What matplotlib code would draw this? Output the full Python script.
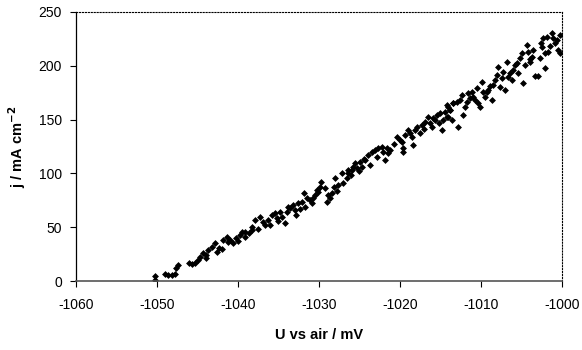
import numpy as np
import matplotlib.pyplot as plt

plt.rcParams['font.family'] = ['Liberation Sans', 'DejaVu Sans']
plt.rcParams['axes.unicode_minus'] = False

# potential U vs air (mV) and current density j (mA cm^-2)
u_mv = [
    -1050.2, -1050.2, -1049.0, -1048.6, -1048.2, -1047.8, -1047.6, -1047.4,
    -1046.1, -1045.7, -1045.3, -1044.9, -1044.7, -1044.3, -1043.9, -1043.7,
    -1043.2, -1042.8, -1042.6, -1042.4, -1041.8, -1041.4, -1041.2, -1041.0,
    -1040.6, -1040.2, -1039.8, -1039.5, -1039.1, -1039.1, -1038.7, -1038.3,
    -1038.3, -1037.9, -1037.3, -1036.9, -1036.7, -1036.3, -1036.05, -1035.8,
    -1035.4, -1035.2, -1034.8, -1034.6, -1034.2, -1034.0, -1033.8, -1033.6,
    -1033.2, -1033.0, -1032.8, -1032.55, -1032.1, -1031.9, -1031.7, -1031.5,
    -1031.1, -1030.9, -1030.5, -1030.3, -1030.1, -1029.9, -1029.7, -1029.3,
    -1029.06, -1028.85, -1028.6, -1028.4, -1028.2, -1028.0, -1027.6, -1027.2,
    -1027.0, -1026.6, -1026.4, -1026.0, -1025.8,
    -1026.38, -1025.97, -1025.56, -1025.35, -1024.94, -1024.73, -1024.32,
    -1023.91, -1023.7, -1023.5, -1023.09, -1022.88, -1022.67, -1022.26,
    -1022.06, -1021.85, -1021.65, -1021.44, -1021.23, -1020.41, -1019.79,
    -1019.59, -1019.59, -1019.38, -1018.97, -1018.77, -1018.56, -1018.35,
    -1018.15, -1017.94, -1017.53, -1017.32, -1016.91, -1016.5, -1016.3,
    -1016.09, -1015.88, -1015.68, -1015.47, -1015.06, -1014.86, -1014.65,
    -1014.44, -1014.24, -1014.03, -1013.83, -1013.42,
    -1014.23, -1014.03, -1013.82, -1013.62, -1013.41, -1013.0, -1012.8,
    -1012.59, -1012.38, -1012.18, -1011.97, -1011.77, -1011.56, -1011.15,
    -1010.94, -1010.74, -1010.53, -1010.32, -1010.12, -1009.91, -1009.71,
    -1009.5, -1009.3, -1009.09, -1008.68, -1008.47, -1008.27, -1008.06,
    -1007.86, -1007.65, -1007.44, -1007.24, -1007.03, -1006.83, -1006.62,
    -1006.21, -1006.0, -1005.8, -1005.59, -1005.39, -1005.18, -1004.97,
    -1004.77, -1004.56, -1004.36, -1004.15, -1003.95, -1003.74, -1003.53,
    -1003.33, -1002.92, -1002.71, -1002.51, -1002.3, -1002.09, -1002.09,
    -1001.89, -1001.68, -1001.27, -1001.07, -1000.86, -1000.65, -1000.44,
    -1000.24, -1000.24,
    -1044.0, -1042.0, -1040.0, -1037.5, -1035.0, -1032.3, -1030.7, -1027.8,
    -1025.0, -1024.5, -1020.8, -1020.0, -1017.0, -1015.2, -1011.4, -1008.9,
    -1006.4, -1004.0, -1002.6, -1001.5,
]
j_ma = [
    4.6, 1.0, 6.5, 5.6, 5.6, 6.5, 11.8, 14.9,
    16.4, 15.8, 16.4, 19.5, 22.6, 25.7, 24.2, 28.8,
    31.9, 35.0, 27.2, 30.4, 38.1, 41.2, 36.5, 38.1,
    35.0, 39.7, 42.7, 45.8, 45.8, 41.2, 44.3, 47.4,
    50.5, 56.7, 59.8, 55.1, 52.0, 56.7, 52.0, 61.3,
    62.9, 58.2, 64.4, 59.8, 53.6, 64.4, 69.1, 67.5,
    70.6, 66.0, 61.3, 72.2, 73.7, 81.5, 69.1, 76.8,
    75.3, 72.2, 79.9, 84.6, 83.0, 87.7, 92.3, 86.1,
    73.7, 79.9, 76.8, 81.5, 87.7, 95.4, 89.2, 100.0,
    90.8, 95.4, 103.2, 98.5, 106.3,
    100.1, 103.2, 109.4, 104.7, 110.9, 106.3, 112.4,
    117.1, 107.8, 120.2, 121.7, 115.5, 123.3, 124.8,
    120.2, 112.4, 123.3, 118.6, 121.7, 134.1, 129.5,
    123.3, 120.2, 135.7, 140.3, 137.2, 134.1, 126.4,
    140.3, 143.4, 137.2, 145.0, 148.1, 152.7, 146.5,
    143.4, 151.2, 149.6, 154.3, 155.8, 140.3, 149.6,
    157.4, 163.6, 152.7, 158.9, 165.1,
    152.8, 162.1, 159.0, 149.7, 165.2, 166.7, 143.5,
    168.3, 172.9, 154.3, 162.1, 166.7, 174.4, 176.0,
    171.3, 168.3, 179.1, 165.2, 162.1, 185.3, 176.0,
    171.3, 176.0, 177.5, 168.3, 182.2, 186.8, 191.5,
    199.2, 180.6, 188.4, 194.6, 177.5, 203.9, 189.9,
    186.8, 196.1, 200.8, 202.3, 193.0, 207.0, 211.6,
    183.7, 200.8, 219.4, 213.2, 203.9, 208.5, 214.7,
    190.0, 190.0, 207.0, 217.8, 225.6, 211.6, 197.7,
    227.1, 213.2, 230.2, 225.6, 220.9, 224.0, 214.7,
    228.7, 211.6,
    21.0, 29.5, 37.0, 48.5, 55.5, 66.5, 77.5, 84.0,
    102.0, 113.5, 127.0, 131.0, 141.5, 147.0, 170.0, 181.0,
    193.5, 206.0, 221.0, 218.5,
]

x_ticks = [-1060, -1050, -1040, -1030, -1020, -1010, -1000]
y_ticks = [0, 50, 100, 150, 200, 250]

fig = plt.figure(figsize=(5.82, 3.5), dpi=100)
ax = fig.add_axes([0.1306, 0.197, 0.835, 0.769])

ax.plot(u_mv, j_ma, linestyle='none', marker='D', markersize=3.0,
        color='black', markeredgewidth=0.5)

ax.set_xlim(-1060, -1000)
ax.set_ylim(0, 250)
ax.set_xticks(x_ticks)
ax.set_yticks(y_ticks)
ax.tick_params(direction='out', length=4, width=0.8, labelsize=10, pad=6)
ax.tick_params(axis='x', pad=8)

for side in ['top', 'right']:
    ax.spines[side].set_linestyle(':')
    ax.spines[side].set_linewidth(0.8)
ax.spines['bottom'].set_color('#555555')
ax.spines['bottom'].set_linewidth(1.2)
ax.spines['left'].set_linewidth(0.9)

ax.set_xlabel('U vs air / mV', fontsize=10.5, fontweight='bold', labelpad=12)
ax.set_ylabel('j / mA cm$^{\\mathbf{-2}}$', fontsize=10.5, fontweight='bold', labelpad=8)

fig.savefig('out.png', dpi=100)
